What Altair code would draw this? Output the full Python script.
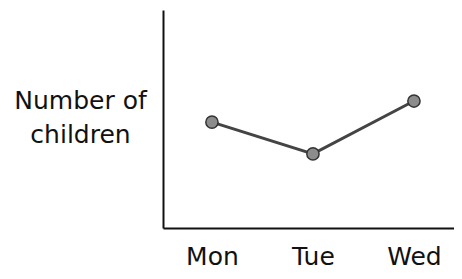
import altair as alt
import pandas as pd

days = ["Mon", "Tue", "Wed"]
children = [5, 3.5, 6]

df = pd.DataFrame({"day": days, "children": children})

FONT = "DejaVu Sans"

x = alt.X(
    "day:N",
    sort=days,
    scale=alt.Scale(type="point", padding=0.4406, align=0.55),
    axis=alt.Axis(
        title=None,
        ticks=False,
        tickSize=0,
        grid=False,
        domainColor="#111111",
        domainWidth=2,
        labelAngle=0,
        labelFont=FONT,
        labelFontSize=25,
        labelColor="#111111",
        labelBaseline="alphabetic",
        labelPadding=36,
    ),
)
y = alt.Y(
    "children:Q",
    scale=alt.Scale(domain=[0, 10.3], nice=False, zero=True),
    axis=alt.Axis(
        title=["Number of", "children"],
        titleAngle=0,
        titleFont=FONT,
        titleFontSize=25,
        titleFontWeight="normal",
        titleColor="#111111",
        titleAlign="center",
        titleBaseline="alphabetic",
        titleX=-83,
        titleY=98,
        titleLineHeight=34,
        labels=False,
        ticks=False,
        tickSize=0,
        grid=False,
        domainColor="#111111",
        domainWidth=2,
    ),
)

line = alt.Chart(df).mark_line(color="#444444", strokeWidth=3).encode(x=x, y=y)
points = alt.Chart(df).mark_point(
    filled=True, fill="#8c8c8c", stroke="#333333", strokeWidth=1.5, size=150, opacity=1
).encode(x=x, y=y)

chart = (
    alt.layer(line, points)
    .properties(
        width=291,
        height=218,
        autosize=alt.AutoSizeParams(type="none"),
        padding={"left": 155, "top": 2, "right": 0, "bottom": 43},
        view=alt.ViewBackground(stroke="transparent", strokeWidth=0),
    )
    .configure_view(stroke="transparent", strokeWidth=0)
    .configure_axis(grid=False)
    .configure(background="white")
)

chart.save("out.html", embed_options={"renderer": "svg", "actions": False})
